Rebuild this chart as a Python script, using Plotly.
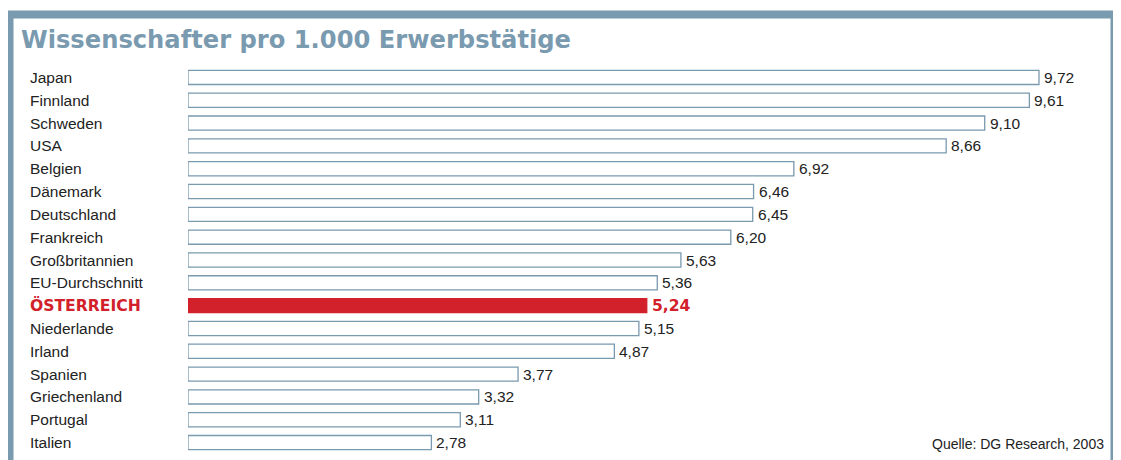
import plotly.graph_objects as go

countries = ["Japan", "Finnland", "Schweden", "USA", "Belgien", "Dänemark", "Deutschland",
             "Frankreich", "Großbritannien", "EU-Durchschnitt", "ÖSTERREICH", "Niederlande",
             "Irland", "Spanien", "Griechenland", "Portugal", "Italien"]
values = [9.72, 9.61, 9.10, 8.66, 6.92, 6.46, 6.45, 6.20, 5.63, 5.36, 5.24, 5.15,
          4.87, 3.77, 3.32, 3.11, 2.78]
highlight = "ÖSTERREICH"
title_text = "Wissenschafter pro 1.000 Erwerbstätige"
source_text = "Quelle: DG Research, 2003"

FRAME = "#7a9aaf"
RED = "#d2212b"
TXT = "#222222"

OFF = 8  # page body margin
W, H = 1121 - OFF, 460 - OFF
# plot area in screen pixels
SX0, SY0, SY1 = 188, 66, 454
SCALE = 87.55
ML = SX0 - OFF
MT = SY0 - OFF
MB = H - (SY1 - OFF)
MR = 10
PW = W - ML - MR
PH = H - MT - MB

def px_x(p):
    return (p - SX0) / PW

def px_y(p):
    return (SY1 - p) / PH

fill = [RED if c == highlight else "white" for c in countries]
line_col = [RED if c == highlight else FRAME for c in countries]
labels = [f"{v:.2f}".replace(".", ",") for v in values]

fig = go.Figure()
fig.add_trace(go.Bar(
    x=values, y=countries, orientation="h",
    marker=dict(color=fill, line=dict(color=line_col, width=1.3)),
    width=0.62, hoverinfo="skip",
))

annotations = []
for c, v, lab in zip(countries, values, labels):
    hl = c == highlight
    annotations.append(dict(
        x=px_x(28), xref="paper", y=c, yref="y", text=c, showarrow=False,
        xanchor="left", yanchor="middle",
        font=dict(family="DejaVu Sans" if hl else "Liberation Sans", size=15.6 if hl else 15.5,
                  color=RED if hl else TXT, weight="bold" if hl else "normal"),
    ))
    annotations.append(dict(
        x=v, xref="x", y=c, yref="y", text=lab, showarrow=False,
        xanchor="left", yanchor="middle", xshift=3,
        font=dict(family="DejaVu Sans" if hl else "Liberation Sans", size=15.6 if hl else 15.5,
                  color=RED if hl else TXT, weight="bold" if hl else "normal"),
    ))

annotations.append(dict(
    x=px_x(19), xref="paper", y=px_y(39.5), yref="paper", text=title_text, showarrow=False,
    xanchor="left", yanchor="middle",
    font=dict(family="DejaVu Sans", size=24.2, color=FRAME, weight="bold"),
))
annotations.append(dict(
    x=px_x(1106), xref="paper", y=px_y(444), yref="paper", text=source_text, showarrow=False,
    xanchor="right", yanchor="middle",
    font=dict(family="Liberation Sans", size=14, color=TXT),
))

shapes = [dict(
    type="rect", xref="paper", yref="paper",
    x0=px_x(9.5), x1=px_x(1114.5), y0=px_y(490), y1=px_y(14.5),
    line=dict(color=FRAME, width=8), fillcolor="rgba(0,0,0,0)", layer="below",
)]

fig.update_layout(
    width=W, height=H,
    margin=dict(l=ML, r=MR, t=MT, b=MB, autoexpand=False),
    paper_bgcolor="white", plot_bgcolor="white",
    showlegend=False,
    xaxis=dict(range=[0, PW / SCALE], visible=False, fixedrange=True),
    yaxis=dict(categoryorder="array", categoryarray=countries,
               visible=False, range=[16.5, -0.5], fixedrange=True),
    annotations=annotations,
    shapes=shapes,
)

fig.write_html("out.html")
